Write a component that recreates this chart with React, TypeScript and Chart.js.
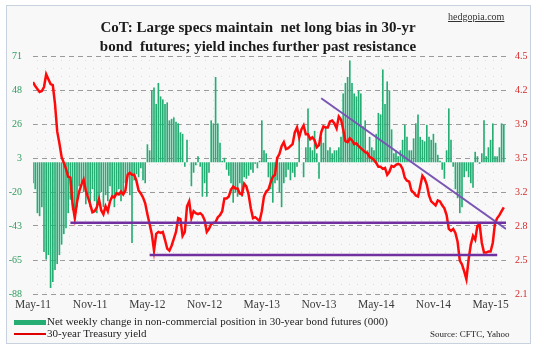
import React, { useEffect, useRef } from 'react';
import Chart from 'chart.js/auto';

// ---------- data ----------
const xTickIndex = [0, 26, 52, 78, 104, 130, 156, 182, 208];
const xTickLabels = ['May-11', 'Nov-11', 'May-12', 'Nov-12', 'May-13', 'Nov-13', 'May-14', 'Nov-14', 'May-15'];

const leftTickLabels = ['-88', '-65', '-43', '-20', '3', '26', '48', '71'];
const rightTickLabels = ['2.1', '2.5', '2.8', '3.2', '3.5', '3.9', '4.2', '4.5'];

// Net weekly change in non-commercial position, 30-yr bond futures (000), weekly
const netChange = [
  -14, -18, -34, -36, -30, -60, -65, -62, -84, -80,
  -72, -68, -62, -55, -48, -44, -34, -25, -32, -36,
  -30, -16, -14, -20, -28, -22, -30, -18, -26, -34,
  -24, -20, -30, -22, -26, -16, -24, -30, -22, -18,
  -26, -20, -14, -10, -22, -54, -12, -8, -10, -4,
  -12, -14, 12, 8, 48, 50, 39, 53, 44, 42,
  39, 40, 28, 29, 30, 27, 26, 20, 19, -3,
  15, 0, -16, -7, -2, 4, -3, -23, -14, -23,
  -7, 28, 26, 57, 26, 13, 1, 3, -5, -9,
  -14, -27, -20, -23, -14, -23, -10, -11, -9, -5,
  -7, -1, -4, 1, 28, 8, 6, -10, -18, -27,
  -14, -12, -20, -30, -14, -10, -5, -12, -7, -10,
  -3, 17, 0, -10, 10, 36, 10, 8, 21, 6,
  -11, 17, 13, 24, 8, 10, 6, 8, 8, 10,
  17, 46, 53, 57, 68, 53, 46, 44, 48, 46,
  24, 28, 8, 17, 10, 8, 19, 33, 32, 62,
  39, 54, 48, 22, 6, 8, 4, 8, 15, 25,
  17, 8, 8, 16, 26, 32, 17, 15, 14, 25,
  17, 15, 19, 13, 5, 1, -5, -11, 8, 36,
  15, -3, -18, -24, -34, -30, -10, -6, -10, -14,
  -17, 7, 4, -1, 6, 28, 4, 10, 15, 26,
  4, 4, 10, 26, 25,
];

// 30-year Treasury yield (%), weekly
const yield30 = [
  4.28, 4.24, 4.21, 4.18, 4.19, 4.23, 4.36, 4.31, 4.26, 4.25,
  4.06, 3.78, 3.66, 3.52, 3.46, 3.40, 3.32, 3.31, 3.04, 2.90,
  3.06, 3.17, 3.24, 3.29, 3.18, 3.11, 3.04, 2.96, 2.97, 3.01,
  3.09, 2.98, 2.94, 3.02, 2.97, 3.07, 3.12, 3.11, 3.15, 3.14,
  3.17, 3.14, 3.18, 3.34, 3.36, 3.34, 3.34, 3.28, 3.18, 3.15,
  3.11, 3.05, 2.94, 2.84, 2.74, 2.57, 2.74, 2.76, 2.75, 2.76,
  2.68, 2.59, 2.57, 2.62, 2.69, 2.76, 2.90, 2.89, 2.72, 2.76,
  3.02, 3.07, 2.90, 2.97, 2.95, 2.94, 2.95, 2.93, 2.88, 2.76,
  2.79, 2.84, 2.85, 2.86, 2.91, 2.93, 2.97, 3.10, 3.10, 3.12,
  3.19, 3.22, 3.20, 3.20, 3.15, 3.14, 3.25, 3.22, 3.14, 3.00,
  2.90, 2.91, 2.89, 2.87, 2.97, 3.12, 3.17, 3.19, 3.26, 3.32,
  3.34, 3.51, 3.55, 3.63, 3.67, 3.60, 3.61, 3.63, 3.65, 3.77,
  3.82, 3.72, 3.80, 3.84, 3.75, 3.75, 3.70, 3.72, 3.69, 3.62,
  3.64, 3.77, 3.83, 3.82, 3.82, 3.88, 3.89, 3.86, 3.81, 3.93,
  3.90, 3.80, 3.68, 3.67, 3.71, 3.69, 3.65, 3.66, 3.63, 3.61,
  3.59, 3.57, 3.56, 3.52, 3.51, 3.49, 3.46, 3.42, 3.42, 3.40,
  3.41, 3.34, 3.37, 3.43, 3.42, 3.44, 3.45, 3.44, 3.40, 3.31,
  3.28, 3.27, 3.18, 3.16, 3.13, 3.12, 3.22, 3.33, 3.30, 3.24,
  3.13, 3.07, 3.05, 3.03, 3.08, 3.07, 3.03, 3.00, 2.93, 2.79,
  2.77, 2.79, 2.75, 2.66, 2.47, 2.43, 2.36, 2.28, 2.48, 2.63,
  2.72, 2.68, 2.82, 2.84, 2.65, 2.55, 2.55, 2.56, 2.56, 2.65,
  2.85, 2.90, 2.93, 2.97, 3.01,
];

// drawn resistance / support / trend lines (week index, yield)
const upperResistance = [{ x: 17, y: 2.853 }, { x: 215, y: 2.853 }];
const lowerSupport = [{ x: 53, y: 2.526 }, { x: 211, y: 2.526 }];
const downTrend = [{ x: 131, y: 4.116 }, { x: 215, y: 2.79 }];

const leftMin = -88;
const leftMax = 71;
const rightMin = 2.13;
const rightMax = 4.545;

const SERIF = "'Liberation Serif', 'Times New Roman', serif";
const GREEN = '#25ad74';
const RED = '#ff0a0a';
const PURPLE = '#7030a0';

export default function App() {
  const ref = useRef<HTMLCanvasElement>(null);

  useEffect(() => {
    document.body.style.margin = '0';
    const canvas = ref.current;
    if (!canvas) return;

    const dotsPlugin = {
      id: 'dots',
      beforeDatasetsDraw(chart: any) {
        const { ctx, chartArea: a } = chart;
        ctx.save();
        ctx.fillStyle = 'rgba(214,204,130,0.55)';
        for (let y = a.top + 4; y < a.bottom; y += 8) {
          for (let x = a.left + 4; x < a.right; x += 8) ctx.fillRect(x, y, 1, 1);
        }
        ctx.restore();
      },
    };

    const evenTicks = (min: number, max: number) => (s: any) => {
      const n = 7;
      s.ticks = Array.from({ length: n + 1 }, (_, k) => ({ value: min + ((max - min) * k) / n }));
    };

    const chart = new Chart(canvas, {
      type: 'bar',
      data: {
        datasets: [
          {
            type: 'line', label: 'upper', data: upperResistance as any, yAxisID: 'yR', xAxisID: 'x',
            borderColor: PURPLE, borderWidth: 2.5, pointRadius: 0, order: 0,
          },
          {
            type: 'line', label: 'lower', data: lowerSupport as any, yAxisID: 'yR', xAxisID: 'x',
            borderColor: PURPLE, borderWidth: 2.5, pointRadius: 0, order: 0,
          },
          {
            type: 'line', label: 'trend', data: downTrend as any, yAxisID: 'yR', xAxisID: 'x',
            borderColor: '#7a55b3', borderWidth: 2, pointRadius: 0, order: 0,
          },
          {
            type: 'line', label: '30-year Treasury yield', data: yield30.map((v, i) => ({ x: i, y: v })) as any,
            yAxisID: 'yR', xAxisID: 'x', borderColor: RED, borderWidth: 2.5, pointRadius: 0, tension: 0, order: 1,
          },
          {
            type: 'bar', label: 'Net weekly change', data: netChange.map((v, i) => ({ x: i, y: v })) as any,
            yAxisID: 'yL', xAxisID: 'x', backgroundColor: GREEN, barPercentage: 0.75, categoryPercentage: 1, order: 2,
          },
        ] as any,
      },
      options: {
        animation: false,
        responsive: false,
        events: [],
        layout: { padding: { top: 56, left: 0, right: 0, bottom: 0 } },
        plugins: { legend: { display: false }, tooltip: { enabled: false }, title: { display: false } },
        scales: {
          x: {
            type: 'linear', min: 0, max: 215, offset: false,
            grid: { display: false, drawTicks: false }, border: { display: false },
            afterBuildTicks: (s: any) => { s.ticks = xTickIndex.map((v) => ({ value: v })); },
            afterFit: (s: any) => { s.height = 59; },
            ticks: {
              autoSkip: false, maxRotation: 0, padding: 4, color: '#3a3a3a',
              font: { family: SERIF, size: 11.5 },
              callback: (_v: any, i: number) => xTickLabels[i],
            },
          },
          yL: {
            type: 'linear', position: 'left', min: leftMin, max: leftMax,
            afterBuildTicks: evenTicks(leftMin, leftMax),
            afterFit: (s: any) => { s.width = 33; },
            grid: { color: '#9a9a9a', lineWidth: 1, drawTicks: false },
            border: { display: false, dash: [5, 4] },
            ticks: {
              padding: 11, color: '#2e9a5e', font: { family: SERIF, size: 10 },
              callback: (_v: any, i: number) => leftTickLabels[i],
            },
          },
          yR: {
            type: 'linear', position: 'right', min: rightMin, max: rightMax,
            afterBuildTicks: evenTicks(rightMin, rightMax),
            afterFit: (s: any) => { s.width = 32; },
            grid: { display: false, drawTicks: false },
            border: { display: false },
            ticks: {
              padding: 9, color: '#d42a2a', font: { family: SERIF, size: 10 },
              callback: (_v: any, i: number) => rightTickLabels[i],
            },
          },
        },
      } as any,
      plugins: [dotsPlugin],
    });

    return () => chart.destroy();
  }, []);

  const abs = (o: React.CSSProperties): React.CSSProperties => ({ position: 'absolute', ...o });

  return (
    <div style={{ position: 'relative', width: 538, height: 353, background: '#ffffff', overflow: 'hidden' }}>
      <div style={abs({ left: 6, top: 5, width: 523, height: 337, border: '1px solid #c8d2de', background: '#f8f8f8' })} />
      <canvas ref={ref} width={538} height={353} style={abs({ left: 0, top: 0, width: 538, height: 353 })} />
      <div
        style={abs({
          left: 0, top: 18, width: 516, textAlign: 'center', whiteSpace: 'pre',
          font: `bold 15px ${SERIF}`, lineHeight: '19px', color: '#1a1a1a',
        })}
      >
        {'CoT: Large specs maintain  net long bias in 30-yr\nbond  futures; yield inches further past resistance'}
      </div>
      <div style={abs({ left: 448, top: 11, font: `10px ${SERIF}`, textDecoration: 'underline', color: '#333' })}>
        hedgopia.com
      </div>
      <div style={abs({ left: 14, top: 320, width: 32, height: 5, background: GREEN })} />
      <div style={abs({ left: 47, top: 315, font: `11px ${SERIF}`, lineHeight: '13px', color: '#222', whiteSpace: 'nowrap' })}>
        Net weekly change in non-commercial position in 30-year bond futures (000)
      </div>
      <div style={abs({ left: 14, top: 333, width: 32, height: 2, background: '#e00000' })} />
      <div style={abs({ left: 47, top: 327, font: `11px ${SERIF}`, lineHeight: '13px', color: '#222', whiteSpace: 'nowrap' })}>
        30-year Treasury yield
      </div>
      <div style={abs({ left: 430, top: 329, font: `9px ${SERIF}`, lineHeight: '11px', color: '#222', whiteSpace: 'nowrap' })}>
        Source: CFTC, Yahoo
      </div>
    </div>
  );
}
